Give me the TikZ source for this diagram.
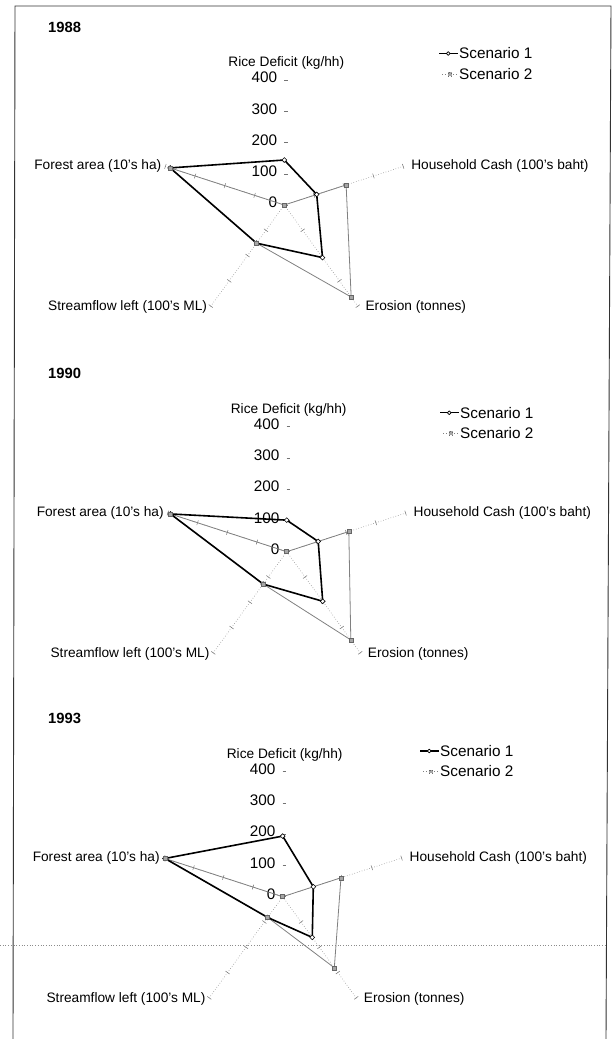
\documentclass[tikz,border=0pt]{standalone}
\usepackage{fontspec}
\setmainfont{Liberation Sans}
\usepackage{xcolor}
\usepackage{tikz}
\usetikzlibrary{positioning, arrows.meta, shapes.geometric}

\begin{document}
\begin{tikzpicture}[x=1pt, y=1pt,
        axisline/.style={black!45, dotted, line width=0.6pt},
        axistick/.style={black!55, line width=0.5pt},
        sone/.style={black, line width=1.6pt, line join=round},
        stwo/.style={black!50, line width=0.8pt, line join=round},
        mone/.style={diamond, draw=black, fill=white, line width=0.6pt, inner sep=0pt, minimum size=5pt},
        mtwo/.style={rectangle, draw=black!60, fill=black!35, line width=0.5pt, inner sep=0pt, minimum size=4pt},
        axlabel/.style={font=\fontsize{13.7}{16}\selectfont, inner sep=3pt},
        numlabel/.style={font=\fontsize{15.3}{18}\selectfont, inner sep=0pt, anchor=east},
        leglabel/.style={font=\fontsize{15.3}{18}\selectfont, inner sep=1.5pt, anchor=west},
        yrlabel/.style={font=\bfseries\fontsize{14.8}{18}\selectfont, inner sep=0pt, anchor=west}]

        \useasboundingbox (0,0) rectangle (613,-1039);

        % frame of the page and the fold line
        \draw[black!80, line width=0.9pt] (13,-1039) -- (15,-6) -- (611,-6) -- (606,-1039);
        \draw[black!45, dotted, line width=0.7pt] (0,-945) -- (607,-945);

        % one radar chart per year: centre, legend, scenario 1 and scenario 2 values
        \foreach \yr/\cx/\cy/\lx/\ly/\ra/\ca/\ea/\fa/\ta/\rb/\cb/\eb/\fb/\tb in {
                1988/284.3/205/439/53.5/144/109/208/151/384/0/208/364/151/384,
                1990/286.7/551.7/440/412.7/101/106/196/128/391/0/209/349/128/391,
                1993/282.7/896.7/420/751/194/103/161/82/396/0/196/281/82/396} {
            \coordinate (o\yr) at (\cx,-\cy);
            \node[yrlabel] (yr\yr) at (48,-\cy+178) {\yr};

            % Axes with ticks every 100
            \foreach \nm/\ang in {cash/18, ero/-54, flow/-126, forest/162} {
                \draw[axisline] (o\yr) -- ++(\ang:126) coordinate (\nm\yr);
                \foreach \k in {1,...,4}
                    \draw[axistick] (o\yr) ++(\ang:\k*31.25) ++(\ang+90:2.5) -- ++(\ang-90:5);
            }
            \coordinate (rice\yr) at ([shift={(0,126)}]o\yr);
            \foreach \v in {0,100,...,400} {
                \draw[axistick] (o\yr) ++(0,\v*0.3125) -- ++(3.5,0);
                \node[numlabel] (n\v\yr) at ([shift={(-7,\v*0.3125+2.5)}]o\yr) {\v};
            }

            % Axis labels
            \node[axlabel] (lrice\yr) at ([shift={(2,142)}]o\yr) {Rice Deficit (kg/hh)};
            \node[axlabel, anchor=east] (lforest\yr) at (forest\yr) {Forest area (10's ha)};
            \node[axlabel, anchor=west, xshift=4pt] (lcash\yr) at (cash\yr) {Household Cash (100's baht)};
            \node[axlabel, anchor=east] (lflow\yr) at (flow\yr) {Streamflow left (100's ML)};
            \node[axlabel, anchor=west, xshift=4pt] (lero\yr) at (ero\yr) {Erosion (tonnes)};

            % Data points
            \foreach \p/\ang/\va/\vb in {rice/90/\ra/\rb, cash/18/\ca/\cb, ero/-54/\ea/\eb,
                    flow/-126/\fa/\fb, forest/162/\ta/\tb} {
                \coordinate (a\p\yr) at ([shift={(\ang:\va*0.3125)}]o\yr);
                \coordinate (b\p\yr) at ([shift={(\ang:\vb*0.3125)}]o\yr);
            }
            \draw[stwo] (brice\yr) -- (bcash\yr) -- (bero\yr) -- (bflow\yr) -- (bforest\yr) -- cycle;
            \draw[sone] (arice\yr) -- (acash\yr) -- (aero\yr) -- (aflow\yr) -- (aforest\yr) -- cycle;
            \foreach \p in {rice,cash,ero,flow,forest} \node[mone] (ma\p\yr) at (a\p\yr) {};
            \foreach \p in {rice,cash,ero,flow,forest} \node[mtwo] (mb\p\yr) at (b\p\yr) {};

            % Legend
            \coordinate (lega\yr) at (\lx,-\ly);
            \coordinate (legb\yr) at (\lx+3,-\ly-20.5);
            \node[leglabel] (sa\yr) at (\lx+18.5,-\ly) {Scenario 1};
            \node[leglabel] (sb\yr) at (\lx+18.5,-\ly-20.5) {Scenario 2};
            \draw[sone, line width=1.3pt] (lega\yr) -- node[mone, minimum size=4pt] (lma\yr) {} (sa\yr.west);
            \draw[stwo, dotted] (legb\yr) -- node[mtwo, minimum size=3.5pt] (lmb\yr) {} (sb\yr.west);
        }
    \end{tikzpicture}
\end{document}
